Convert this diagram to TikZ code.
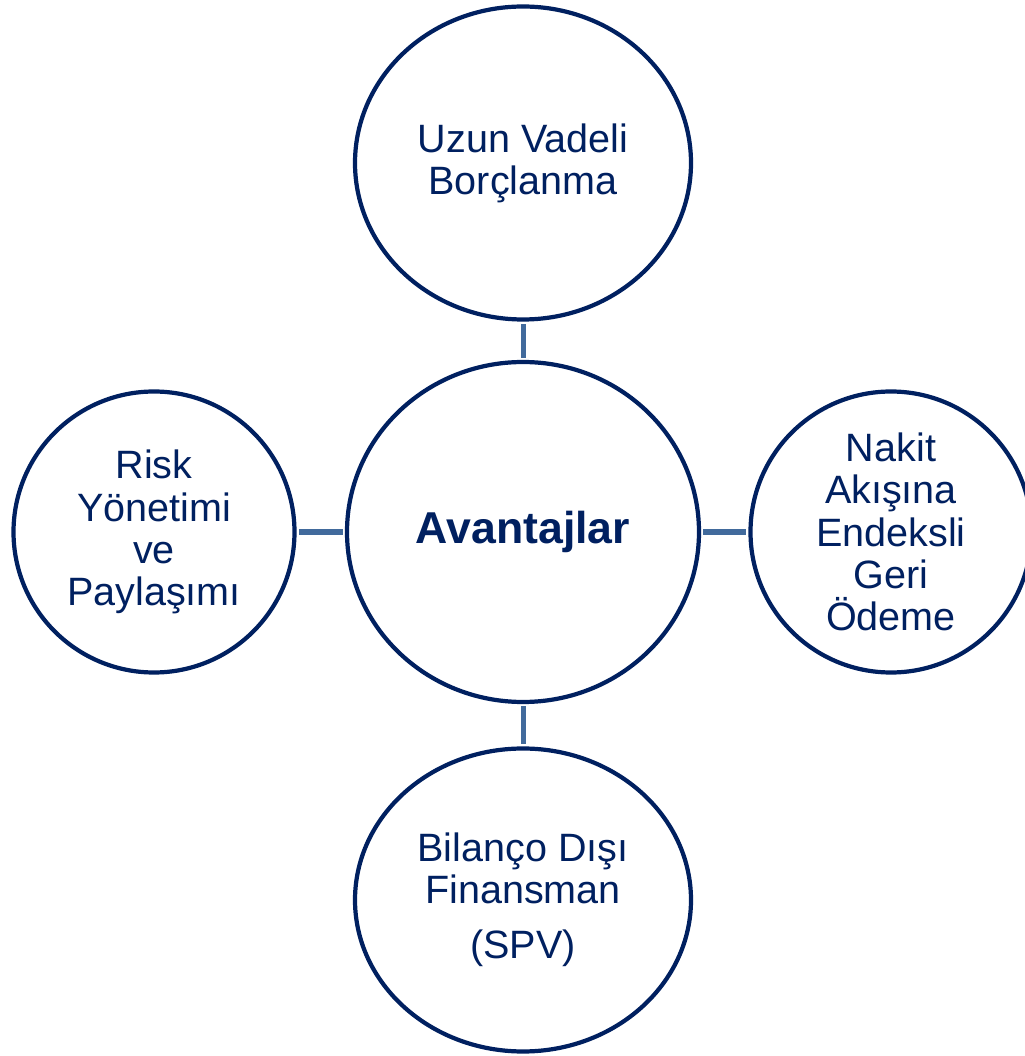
\documentclass[tikz,border=0pt]{standalone}
\usepackage{fontspec}
\setmainfont{Liberation Sans}
\usetikzlibrary{shapes.geometric}
\definecolor{navy}{HTML}{002060}
\definecolor{linkblue}{HTML}{416A9C}
\begin{document}
\begin{tikzpicture}[
  bubble/.style={ellipse, draw=navy, line width=2.4pt, fill=white, text=navy,
    align=center, inner sep=0pt, font=\fontsize{22.5}{24}\selectfont},
  link/.style={draw=linkblue, line width=2.85pt, shorten <=1.1pt, shorten >=1.1pt}]
\useasboundingbox (0,0) rectangle (20.5,21.12);
\node [bubble, minimum width=7.04cm, minimum height=6.8cm,
  font=\fontsize{25.4}{27}\selectfont\bfseries] (main) at (10.46,10.48) {Avantajlar};
\node [bubble, minimum width=6.72cm, minimum height=6.26cm] (borc) at (10.46,17.86)
  {Uzun Vadeli\\Borçlanma};
\node [bubble, minimum width=6.72cm, minimum height=6.06cm] (spv) at (10.46,3.12)
  {Bilanço Dışı\\Finansman\\[0.26cm](SPV)};
\node [bubble, minimum width=5.62cm, minimum height=5.62cm] (risk) at (3.08,10.48)
  {Risk\\Yönetimi\\ve\\Paylaşımı};
\node [bubble, minimum width=5.62cm, minimum height=5.62cm] (nakit) at (17.82,10.48)
  {Nakit\\Akışına\\Endeksli\\Geri\\Ödeme};
\draw [link] (main) -- (borc);
\draw [link] (main) -- (spv);
\draw [link] (main) -- (risk);
\draw [link] (main) -- (nakit);
\end{tikzpicture}
\end{document}
